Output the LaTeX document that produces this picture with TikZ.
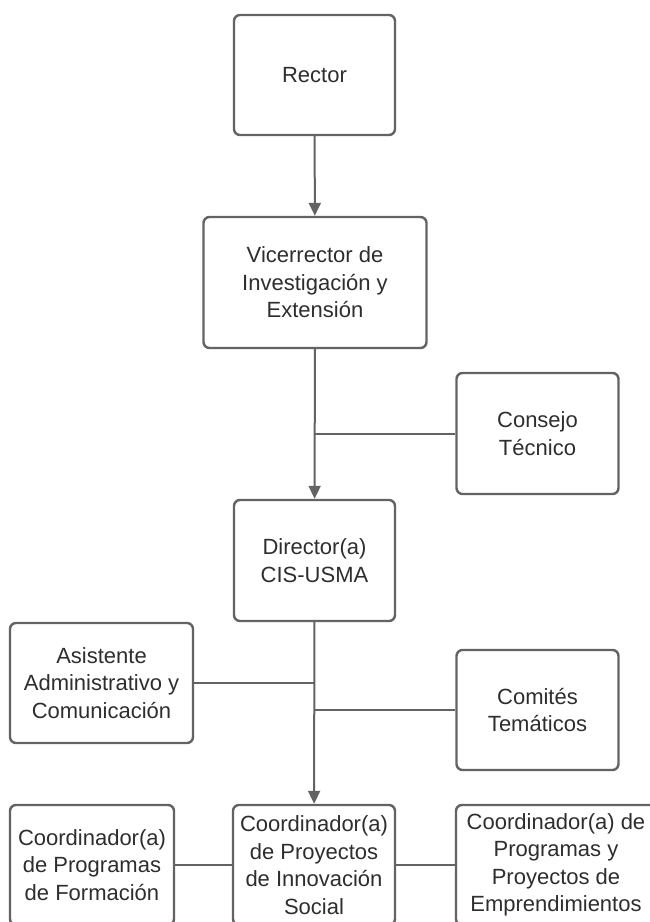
\documentclass[tikz,border=0pt]{standalone}
\usepackage{fontspec}
\setmainfont{Liberation Sans}
\usetikzlibrary{arrows.meta}
\definecolor{ln}{HTML}{636363}
\definecolor{tx}{HTML}{2E2E2E}
\begin{document}
\begin{tikzpicture}[x=1pt,y=-1pt,
  box/.style={draw=ln, line width=2.4pt, rounded corners=6pt, fill=white,
    align=center, text=tx, font=\fontsize{22}{27.5}\selectfont, inner sep=0pt},
  conn/.style={draw=ln, line width=2pt},
  arr/.style={conn, -{Triangle[length=13pt,width=12pt]}}]
\useasboundingbox (0,0) rectangle (650,922);
\clip (0,0) rectangle (650,922);
\fill[white] (0,0) rectangle (650,922);
\node[box, minimum width=161pt, minimum height=120pt] (rector) at (314.5,75) {Rector};
\node[box, minimum width=223pt, minimum height=131pt] (vice) at (315,282.5) {Vicerrector de\\Investigación y\\Extensión};
\node[box, minimum width=162pt, minimum height=121pt] (cons) at (537.5,433.5) {Consejo\\Técnico};
\node[box, minimum width=161pt, minimum height=121pt] (dir) at (314.5,560.5) {Director(a)\\CIS-USMA};
\node[box, minimum width=183pt, minimum height=120pt] (asis) at (101.5,683) {Asistente\\Administrativo y\\Comunicación};
\node[box, minimum width=162pt, minimum height=120pt] (com) at (537.5,710) {Comités\\Temáticos};
\node[box, minimum width=164pt, minimum height=120pt] (form) at (92,865) {Coordinador(a)\\de Programas\\de Formación};
\node[box, minimum width=162pt, minimum height=120pt] (innov) at (314,865) {Coordinador(a)\\de Proyectos\\de Innovación\\Social};
\node[box, minimum width=200pt, minimum height=120pt] (emp) at (556,865) {Coordinador(a) de\\Programas y\\Proyectos de\\Emprendimientos};
\draw[arr] (rector) -- (vice);
\draw[arr] (vice) -- (dir);
\draw[conn] (cons.west) -- (cons.west -| vice.south);
\draw[arr] (dir) -- (innov);
\draw[conn] (asis.east) -- (asis.east -| dir.south);
\draw[conn] (com.west) -- (com.west -| dir.south);
\draw[conn] (form) -- (innov);
\draw[conn] (innov) -- (emp);
\end{tikzpicture}
\end{document}
